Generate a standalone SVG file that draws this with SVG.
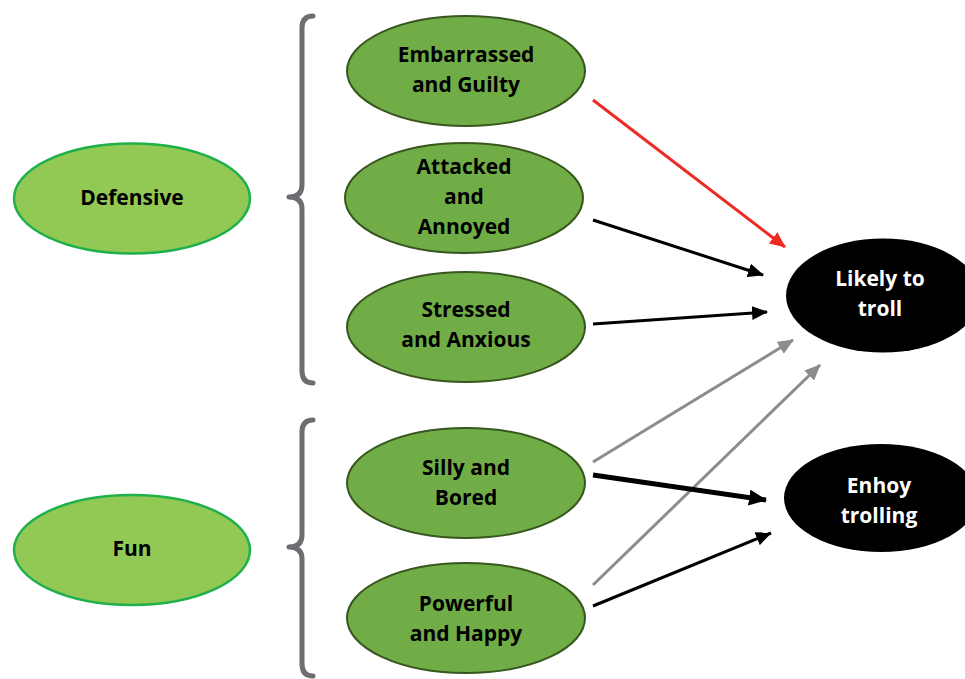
<svg xmlns="http://www.w3.org/2000/svg" width="965" height="679" viewBox="0 0 965 679">
<defs>
<style>
.outer{fill:#92c955;stroke:#1fb04c;stroke-width:2.5}
.mid{fill:#70ad47;stroke:#38571f;stroke-width:2}
.dark{fill:#000}
text{font-family:"Open Sans","Liberation Sans",sans-serif;font-weight:700;font-size:21px;text-anchor:middle}
.t{fill:#000}
.w{fill:#fff}
.brace{fill:none;stroke:#6d6e71;stroke-width:5;stroke-linecap:round;stroke-linejoin:round}
.c{fill:none;stroke-width:3}
</style>
<marker id="aR" markerUnits="userSpaceOnUse" markerWidth="16" markerHeight="14" refX="15" refY="7" orient="auto"><path d="M0,0 L16,7 L0,14 z" fill="#ee2a24"/></marker>
<marker id="aK" markerUnits="userSpaceOnUse" markerWidth="16" markerHeight="14" refX="15" refY="7" orient="auto"><path d="M0,0 L16,7 L0,14 z" fill="#000"/></marker>
<marker id="aK2" markerUnits="userSpaceOnUse" markerWidth="18" markerHeight="16" refX="17" refY="8" orient="auto"><path d="M0,0 L18,8 L0,16 z" fill="#000"/></marker>
<marker id="aG" markerUnits="userSpaceOnUse" markerWidth="16" markerHeight="14" refX="15" refY="7" orient="auto"><path d="M0,0 L16,7 L0,14 z" fill="#8c8c8c"/></marker>
</defs>
<rect width="965" height="679" fill="#fff"/>
<g id="braces">
<path class="brace" d="M313,16 Q302,16 302,28 L302,185 Q302,197 289,197 Q302,197 302,209 L302,371 Q302,383 313,383"/>
<path class="brace" d="M313,420 Q302,420 302,432 L302,535 Q302,547 289,547 Q302,547 302,559 L302,664 Q302,676 313,676"/>
</g>
<g id="defensive"><ellipse class="outer" cx="132" cy="198.5" rx="118" ry="55"/><text class="t" x="132" y="205">Defensive</text></g>
<g id="fun"><ellipse class="outer" cx="132" cy="550" rx="118" ry="55"/><text class="t" x="132" y="556">Fun</text></g>
<g id="embarrassed"><ellipse class="mid" cx="466" cy="71" rx="119" ry="55"/><text class="t" x="466" y="62">Embarrassed</text><text class="t" x="466" y="92">and Guilty</text></g>
<g id="attacked"><ellipse class="mid" cx="464" cy="198" rx="119" ry="55"/><text class="t" x="464" y="174">Attacked</text><text class="t" x="464" y="204">and</text><text class="t" x="464" y="234">Annoyed</text></g>
<g id="stressed"><ellipse class="mid" cx="466" cy="327" rx="119" ry="55"/><text class="t" x="466" y="317">Stressed</text><text class="t" x="466" y="347">and Anxious</text></g>
<g id="silly"><ellipse class="mid" cx="466" cy="483" rx="119" ry="55"/><text class="t" x="466" y="475">Silly and</text><text class="t" x="466" y="505">Bored</text></g>
<g id="powerful"><ellipse class="mid" cx="466" cy="618" rx="119" ry="55"/><text class="t" x="466" y="611">Powerful</text><text class="t" x="466" y="641">and Happy</text></g>
<g id="likely"><ellipse class="dark" cx="883" cy="295.5" rx="97" ry="57"/><text class="w" x="880" y="286">Likely to</text><text class="w" x="880" y="316">troll</text></g>
<g id="enjoy"><ellipse class="dark" cx="881" cy="498" rx="97" ry="54"/><text class="w" x="879" y="493">Enhoy</text><text class="w" x="879" y="523">trolling</text></g>
<g id="connectors">
<line class="c" x1="593" y1="100" x2="785" y2="247" stroke="#ee2a24" marker-end="url(#aR)"/>
<line class="c" x1="593" y1="220" x2="763" y2="275" stroke="#000" marker-end="url(#aK)"/>
<line class="c" x1="593" y1="324" x2="767" y2="312" stroke="#000" marker-end="url(#aK)"/>
<line class="c" x1="593" y1="462" x2="793" y2="340" stroke="#8c8c8c" marker-end="url(#aG)"/>
<line class="c" x1="593" y1="585" x2="820" y2="365" stroke="#8c8c8c" marker-end="url(#aG)"/>
<line class="c" x1="593" y1="475" x2="766" y2="500" stroke="#000" style="stroke-width:5" marker-end="url(#aK2)"/>
<line class="c" x1="593" y1="606" x2="771" y2="533" stroke="#000" marker-end="url(#aK)"/>
</g>
</svg>
